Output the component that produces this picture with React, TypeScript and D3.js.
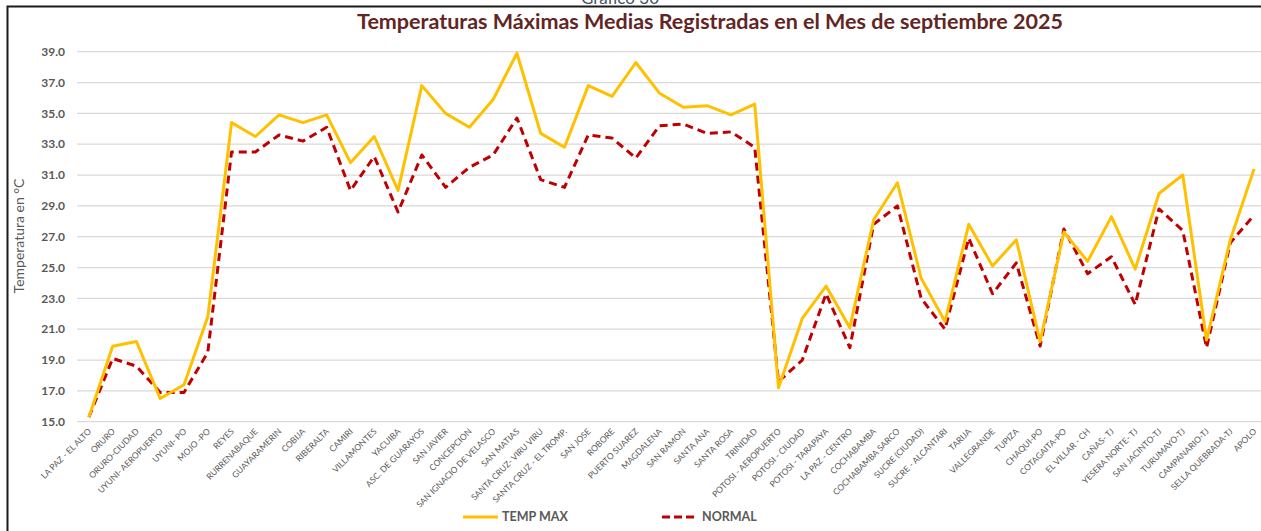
import React from "react";
import * as d3 from "d3";

const categories = [
  "LA PAZ - EL ALTO", "ORURO", "ORURO-CIUDAD", "UYUNI- AEROPUERTO", "UYUNI- PO", "MOJO -PO",
  "REYES", "RURRENABAQUE", "GUAYARAMERIN", "COBIJA", "RIBERALTA", "CAMIRI", "VILLAMONTES",
  "YACUIBA", "ASC. DE GUARAYOS", "SAN JAVIER", "CONCEPCION", "SAN IGNACIO DE VELASCO",
  "SAN MATIAS", "SANTA CRUZ- VIRU VIRU", "SANTA CRUZ - EL TROMP.", "SAN JOSE", "ROBORE",
  "PUERTO SUAREZ", "MAGDALENA", "SAN RAMON", "SANTA ANA", "SANTA ROSA", "TRINIDAD",
  "POTOSI - AEROPUERTO", "POTOSI - CIUDAD", "POTOSI - TARAPAYA", "LA PAZ - CENTRO",
  "COCHABAMBA", "COCHABAMBA SARCO", "SUCRE (CIUDAD)", "SUCRE - ALCANTARI", "TARIJA",
  "VALLEGRANDE", "TUPIZA", "CHAQUI-PO", "COTAGAITA-PO", "EL VILLAR - CH", "CAÑAS- TJ",
  "YESERA NORTE- TJ", "SAN JACINTO-TJ", "TURUMAYO-TJ", "CAMPANARIO-TJ", "SELLA QUEBRADA-TJ",
  "APOLO",
];

const tempMax = [
  15.3, 19.9, 20.2, 16.5, 17.4, 21.8, 34.4, 33.5, 34.9, 34.4, 34.9, 31.8, 33.5, 30.0,
  36.8, 35.0, 34.1, 35.9, 38.9, 33.7, 32.8, 36.8, 36.1, 38.3, 36.3, 35.4, 35.5, 34.9,
  35.6, 17.2, 21.7, 23.8, 21.1, 28.1, 30.5, 24.3, 21.5, 27.8, 25.1, 26.8, 20.2, 27.3,
  25.4, 28.3, 24.9, 29.8, 31.0, 20.3, 26.8, 31.4,
];

const normal = [
  15.3, 19.1, 18.6, 16.9, 16.9, 19.5, 32.5, 32.5, 33.6, 33.2, 34.1, 30.0, 32.2, 28.6,
  32.3, 30.2, 31.5, 32.3, 34.7, 30.7, 30.2, 33.6, 33.4, 32.1, 34.2, 34.3, 33.7, 33.8,
  32.8, 17.6, 19.0, 23.3, 19.8, 27.8, 29.0, 23.0, 21.0, 26.9, 23.3, 25.3, 19.9, 27.5,
  24.6, 25.7, 22.6, 28.8, 27.4, 19.8, 26.6, 28.4,
];

const yTicks = [15, 17, 19, 21, 23, 25, 27, 29, 31, 33, 35, 37, 39];

const W = 1261;
const H = 531;
const FONT = "Lato, 'Open Sans', sans-serif";

export default function App() {
  const plotLeft = 77;
  const plotRight = 77 + 50 * 23.78;
  const x = d3.scaleBand<string>().domain(categories).range([plotLeft, plotRight]).padding(0);
  const y = d3.scaleLinear().domain([15, 39]).range([421.7, 51.7]);
  const cx = (c: string) => (x(c) as number) + x.bandwidth() / 2;

  const line = d3
    .line<number>()
    .x((_, i) => cx(categories[i]))
    .y((d) => y(d));

  return (
    <svg
      width={W}
      height={H}
      style={{ position: "absolute", left: 0, top: 0, background: "#fff" }}
      fontFamily={FONT}
    >
      <rect x={0} y={0} width={W} height={H} fill="#fff" />
      {/* outer border */}
      <path d={`M7.5,${H} V6.5 H${W}`} fill="none" stroke="#1a1a1a" strokeWidth={2} />
      {/* cut-off header */}
      <text x={620} y={4} textAnchor="middle" fontSize={17} fill="#44546a" fontFamily={FONT}>
        Gráfico 30
      </text>
      {/* title */}
      <text x={710} y={29} textAnchor="middle" fontSize={21.5} fontWeight="bold" fill="#632523">
        Temperaturas  Máximas Medias Registradas en el Mes de septiembre 2025
      </text>
      {/* gridlines */}
      {yTicks.map((t) => (
        <line key={t} x1={plotLeft} x2={W} y1={y(t)} y2={y(t)} stroke="#d9d9d9" strokeWidth={1.3} />
      ))}
      {/* y tick labels */}
      {yTicks.map((t) => (
        <text
          key={"l" + t}
          x={65}
          y={y(t)}
          dy="0.35em"
          textAnchor="end"
          fontSize={12}
          fontWeight="bold"
          fill="#595959"
        >
          {t.toFixed(1)}
        </text>
      ))}
      {/* y axis title */}
      <text
        transform={`translate(24,236) rotate(-90)`}
        textAnchor="middle"
        fontSize={14}
        fill="#595959"
      >
        Temperatura en °C
      </text>
      {/* x labels */}
      {categories.map((c) => (
        <text
          key={c}
          transform={`translate(${cx(c) + 3},${432}) rotate(-45)`}
          textAnchor="end"
          fontSize={8.5}
          fill="#595959"
        >
          {c}
        </text>
      ))}
      {/* series */}
      <path d={line(normal) || ""} fill="none" stroke="#c00000" strokeWidth={3} strokeDasharray="8,5" strokeLinejoin="round" />
      <path d={line(tempMax) || ""} fill="none" stroke="#ffc000" strokeWidth={3} strokeLinejoin="round" />
      {/* legend */}
      <line x1={463} x2={498} y1={517} y2={517} stroke="#ffc000" strokeWidth={3} />
      <text x={502} y={517} dy="0.35em" fontSize={12.5} fontWeight="bold" fill="#595959">
        TEMP MAX
      </text>
      <line x1={662} x2={697} y1={517} y2={517} stroke="#c00000" strokeWidth={3} strokeDasharray="8,4" />
      <text x={702} y={517} dy="0.35em" fontSize={12.5} fontWeight="bold" fill="#595959">
        NORMAL
      </text>
    </svg>
  );
}
